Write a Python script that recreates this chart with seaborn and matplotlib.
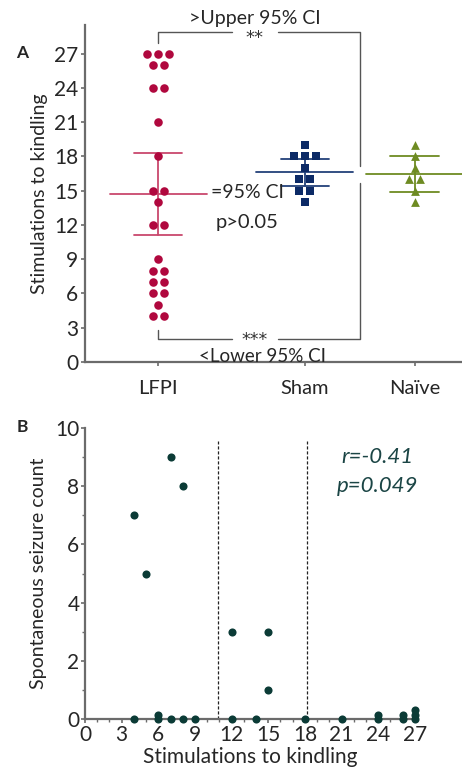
import numpy as np
import pandas as pd
import matplotlib
matplotlib.use("Agg")
import matplotlib.pyplot as plt
import seaborn as sns

# ---- data ----
groups = ["LFPI", "Sham", "Naïve"]
group_pos = [0.0, 1.0, 1.75]
lfpi = [27, 27, 27, 26, 26, 24, 24, 21, 18, 15, 15, 14, 12, 12,
        9, 8, 8, 7, 7, 6, 6, 5, 4, 4]
sham = [19, 18, 18, 18, 17, 16, 16, 15, 15, 14]
naive = [19, 18, 17, 16, 16, 15, 14]
ci_low = [11.1, 15.45, 14.9]
ci_high = [18.3, 17.8, 18.0]

# panel B: stimulations to kindling vs spontaneous seizures (LFPI animals)
stims = [4, 4, 5, 6, 6, 7, 7, 8, 8, 9, 12, 12, 14, 15, 15, 18, 21,
         24, 24, 26, 26, 27, 27, 27]
seizures = [7, 0, 5, 0, 0, 9, 0, 8, 0, 0, 3, 0, 0, 3, 1, 0, 0,
            0, 0, 0, 0, 0, 0, 0]

colors = {"LFPI": "#B0083E", "Sham": "#0C2A66", "Naïve": "#6E8B22"}
line_colors = {"LFPI": "#C9486D", "Sham": "#23417A", "Naïve": "#6E8B22"}
markers = {"LFPI": "o", "Sham": "s", "Naïve": "^"}
sizes = {"LFPI": 38, "Sham": 34, "Naïve": 40}

sns.set_theme(style="ticks")
plt.rcParams["font.family"] = ["Lato", "DejaVu Sans"]
GRAY = "#6b6b6b"


def spread(vals, pos, step=0.075):
    # side by side offsets for tied values
    vals = np.array(vals)
    xs = np.zeros(len(vals))
    for v in np.unique(vals):
        idx = np.where(vals == v)[0]
        n = len(idx)
        xs[idx] = pos + (np.arange(n) - (n - 1) / 2) * step
    return xs


rows = []
for g, pos, vals in zip(groups, group_pos, [lfpi, sham, naive]):
    for x, v in zip(spread(vals, pos), vals):
        rows.append({"group": g, "x": x, "y": v})
dfA = pd.DataFrame(rows)

fig = plt.figure(figsize=(4.62, 7.71), dpi=100)
axA = fig.add_axes([0.184, 0.5305, 0.815, 0.437])
axB = fig.add_axes([0.184, 0.0674, 0.714, 0.3775])

# =====================================
# Panel A
# =====================================
for g, pos, vals, lo, hi in zip(groups, group_pos, [lfpi, sham, naive], ci_low, ci_high):
    m = np.mean(vals)
    lc = line_colors[g]
    axA.plot([pos - 0.33, pos + 0.33], [m, m], color=lc, lw=1.3, zorder=2, clip_on=False)
    axA.plot([pos - 0.165, pos + 0.165], [lo, lo], color=lc, lw=1.3, zorder=2)
    axA.plot([pos - 0.165, pos + 0.165], [hi, hi], color=lc, lw=1.3, zorder=2)
    axA.plot([pos, pos], [lo, hi], color=lc, lw=1.3, zorder=2)

for g in groups:
    sub = dfA[dfA.group == g]
    sns.scatterplot(data=sub, x="x", y="y", ax=axA, color=colors[g],
                    marker=markers[g], s=sizes[g], linewidth=0, zorder=3, legend=False)

axA.set_xlim(-0.5, 2.07)
axA.set_ylim(0, 29.5)
axA.set_yticks(range(0, 28, 3))
axA.set_xticks(group_pos)
axA.set_xticklabels(groups)
axA.set_xlabel("")
axA.set_ylabel("Stimulations to kindling", fontsize=14, labelpad=4)
axA.tick_params(axis="y", labelsize=15, length=3, width=1.2, color=GRAY, pad=2)
axA.tick_params(axis="x", labelsize=14.5, length=3, width=1.2, color=GRAY, pad=10)
sns.despine(ax=axA)
for s in ["left", "bottom"]:
    axA.spines[s].set_color(GRAY)
    axA.spines[s].set_linewidth(1.6)

# brackets, with a gap for the stars
bx = 1.374
bc = "#555555"
gap = (0.50, 0.82)
axA.plot([0, 0, gap[0]], [27.9, 28.85, 28.85], color=bc, lw=1.0, clip_on=False)
axA.plot([gap[1], bx, bx], [28.85, 28.85, 17.2], color=bc, lw=1.0, clip_on=False)
axA.plot([0, 0, gap[0]], [2.8, 2.0, 2.0], color=bc, lw=1.0, clip_on=False)
axA.plot([gap[1], bx, bx], [2.0, 2.0, 15.65], color=bc, lw=1.0, clip_on=False)
axA.text(0.66, 27.95, "**", ha="center", va="baseline", fontsize=13, color="#333333",
         family="DejaVu Sans")
axA.text(0.66, 1.5, "***", ha="center", va="baseline", fontsize=12.5, color="#333333",
         family="DejaVu Sans")
axA.text(0.66, 30.1, ">Upper 95% CI", ha="center", va="center", fontsize=14, clip_on=False)
axA.text(0.71, 0.02, "<Lower 95% CI", ha="center", va="baseline", fontsize=13.5, clip_on=False)
axA.text(0.36, 14.8, "=95% CI", ha="left", va="center", fontsize=14)
axA.text(0.39, 12.2, "p>0.05", ha="left", va="center", fontsize=14.5)
fig.text(0.035, 0.925, "A", fontsize=12.5, fontweight="bold")

# =====================================
# Panel B
# =====================================
dfB = pd.DataFrame({"stims": stims, "seizures": seizures})
# stack tied zero counts so every animal is visible
dfB["shown"] = dfB["seizures"] + dfB.groupby(["stims", "seizures"]).cumcount() * 0.15 * (dfB["seizures"] == 0)

axB.axvline(ci_low[0] - 0.2, ymin=0, ymax=0.955, color="#222222", lw=0.9, ls=(0, (2.5, 1.5)))
axB.axvline(ci_high[0] - 0.1, ymin=0, ymax=0.955, color="#222222", lw=0.9, ls=(0, (2.5, 1.5)))
sns.scatterplot(data=dfB, x="stims", y="shown", ax=axB,
                color="#0B3B36", s=34, linewidth=0, zorder=3, clip_on=False, legend=False)

axB.set_xlim(0, 27)
axB.set_ylim(0, 10)
axB.set_xticks(range(0, 28, 3))
axB.set_yticks(range(0, 11, 2))
axB.set_xticks(range(0, 28), minor=True)
axB.set_yticks(range(1, 10, 2), minor=True)
axB.set_xlabel("Stimulations to kindling", fontsize=15, labelpad=2)
axB.set_ylabel("Spontaneous seizure count", fontsize=14, labelpad=6)
axB.tick_params(labelsize=15, length=3, width=1.2, color=GRAY, pad=1)
axB.tick_params(which="minor", length=2, width=1, color=GRAY)
sns.despine(ax=axB)
for s in ["left", "bottom"]:
    axB.spines[s].set_color(GRAY)
    axB.spines[s].set_linewidth(1.6)

axB.text(23.9, 9.0, "r=-0.41", ha="center", va="center", fontsize=16,
         style="italic", color="#1B4545")
axB.text(23.9, 8.0, "p=0.049", ha="center", va="center", fontsize=16,
         style="italic", color="#1B4545")
fig.text(0.035, 0.44, "B", fontsize=12.5, fontweight="bold")

fig.savefig("out.png", dpi=100)
